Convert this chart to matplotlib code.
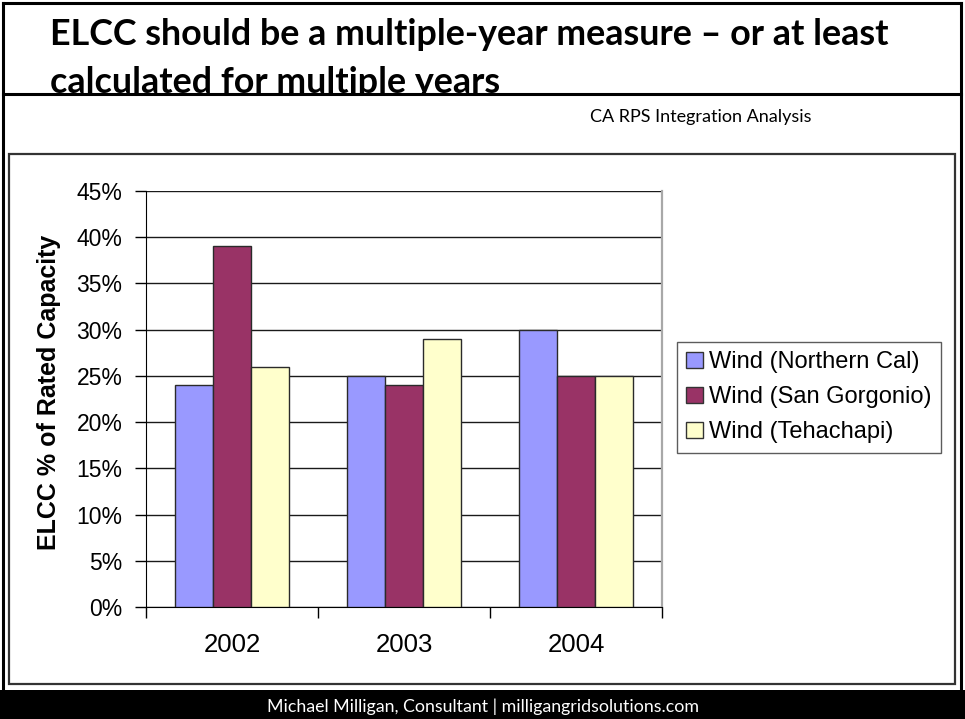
import matplotlib
matplotlib.use("Agg")
import matplotlib.pyplot as plt
import numpy as np
from matplotlib.patches import Rectangle
from matplotlib.lines import Line2D
from matplotlib.ticker import MultipleLocator, FuncFormatter, FixedLocator, NullFormatter

# ---- data -------------------------------------------------------------
years = ["2002", "2003", "2004"]
series_names = ["Wind (Northern Cal)", "Wind (San Gorgonio)", "Wind (Tehachapi)"]
northern_cal = [24, 25, 30]
san_gorgonio = [39, 24, 25]
tehachapi = [26, 29, 25]
series_values = [northern_cal, san_gorgonio, tehachapi]
series_colors = ["#9999FF", "#993366", "#FFFFCC"]

title_lines = ["ELCC should be a multiple-year measure \u2013 or at least",
               "calculated for multiple years"]
subtitle = "CA RPS Integration Analysis"
footer = "Michael Milligan, Consultant | milligangridsolutions.com"
y_label = "ELCC % of Rated Capacity"

W, H = 965, 719
fig = plt.figure(figsize=(W / 100, H / 100), dpi=100)
fig.patch.set_facecolor("white")


def fx(x):
    return x / W


def fy(y):
    return 1 - y / H


def fit_text(txt, width_px):
    """Scale a text's font size so that it spans width_px pixels."""
    r = fig.canvas.get_renderer()
    w = txt.get_window_extent(renderer=r).width
    txt.set_fontsize(txt.get_fontsize() * width_px / w)


# ---- slide title --------------------------------------------------------
rule_y = 94
t1 = fig.text(fx(50), fy(45), title_lines[0], fontfamily="Lato", fontweight="bold",
              fontsize=24, ha="left", va="baseline", color="black", zorder=1)
fit_text(t1, 842)
t2 = fig.text(fx(50), fy(93), title_lines[1], fontfamily="Lato", fontweight="bold",
              fontsize=t1.get_fontsize(), ha="left", va="baseline", color="black", zorder=1)

# content area below the title rule (covers the title's descenders)
fig.add_artist(Rectangle((fx(3), fy(690)), fx(961) - fx(3), fy(rule_y) - fy(690),
                         transform=fig.transFigure, facecolor="white",
                         edgecolor="none", zorder=1.5))
fig.add_artist(Line2D([fx(3), fx(961)], [fy(rule_y), fy(rule_y)], transform=fig.transFigure,
                      color="black", lw=2.2, zorder=2))

# slide frame
fig.add_artist(Line2D([fx(3), fx(3)], [fy(690), fy(2.5)], transform=fig.transFigure,
                      color="black", lw=2.2, zorder=2))
fig.add_artist(Line2D([fx(961), fx(961)], [fy(690), fy(2.5)], transform=fig.transFigure,
                      color="black", lw=2.2, zorder=2))
fig.add_artist(Line2D([fx(3), fx(961)], [fy(2.5), fy(2.5)], transform=fig.transFigure,
                      color="black", lw=2.2, zorder=2))

# subtitle
st = fig.text(fx(590), fy(117), subtitle, fontfamily="Lato", fontsize=12,
              ha="left", va="center", color="black", zorder=3)
fit_text(st, 220)

# chart frame
fig.add_artist(Rectangle((fx(9), fy(684)), fx(955) - fx(9), fy(154) - fy(684),
                         transform=fig.transFigure, facecolor="white",
                         edgecolor="#333333", lw=1.6, zorder=2))

# footer bar
fig.add_artist(Rectangle((0, 0), 1, fy(690), transform=fig.transFigure,
                         facecolor="black", edgecolor="none", zorder=2))
ft = fig.text(fx(483), fy(707), footer, fontfamily="Lato", fontsize=11,
              ha="center", va="center", color="white", zorder=3)
fit_text(ft, 430)

# ---- bar chart ----------------------------------------------------------
ax_left, ax_right, ax_top, ax_bottom = 146, 662, 191, 607
ax = fig.add_axes([fx(ax_left), fy(ax_bottom), fx(ax_right) - fx(ax_left),
                   fy(ax_top) - fy(ax_bottom)])
ax.set_zorder(5)
ax.patch.set_alpha(0)

x = np.arange(len(years))
bar_w = 0.222
for i, (name, vals, col) in enumerate(zip(series_names, series_values, series_colors)):
    ax.bar(x + (i - 1) * bar_w, np.array(vals) / 100.0, width=bar_w, color=col,
           edgecolor="#2a2a2a", linewidth=1.0, label=name, zorder=3)

ax.set_xlim(-0.5, len(years) - 0.5)
ax.set_ylim(0, 0.45)
ax.yaxis.set_major_locator(MultipleLocator(0.05))
ax.yaxis.set_major_formatter(FuncFormatter(lambda v, p: f"{v * 100:.0f}%"))
ax.grid(axis="y", color="#1a1a1a", linewidth=1.0, zorder=1)
ax.set_axisbelow(True)

# category labels centred, ticks on the category boundaries
ax.xaxis.set_major_locator(FixedLocator(x))
ax.set_xticklabels(years)
ax.xaxis.set_minor_locator(FixedLocator(np.arange(len(years) + 1) - 0.5))
ax.xaxis.set_minor_formatter(NullFormatter())
ax.tick_params(axis="x", which="major", length=0, pad=19, labelsize=18.5)
ax.tick_params(axis="x", which="minor", length=8, width=1.0, direction="out", color="black")
ax.tick_params(axis="y", length=8, width=1.0, direction="out", pad=9, labelsize=16.5,
               color="black")
for lab in ax.get_xticklabels() + ax.get_yticklabels():
    lab.set_fontfamily("Liberation Sans")

ax.spines["top"].set_visible(False)
ax.spines["left"].set_color("black")
ax.spines["bottom"].set_color("black")
ax.spines["right"].set_color("#a8a8a8")
ax.spines["right"].set_linewidth(1.6)

ax.set_ylabel(y_label, fontfamily="Liberation Sans", fontweight="bold", fontsize=18)
ax.yaxis.set_label_coords(-0.165, 0.515)

leg = ax.legend(loc="upper left", bbox_to_anchor=(fx(677), fy(342)),
                bbox_transform=fig.transFigure, frameon=True, fancybox=False,
                prop={"family": "Liberation Sans", "size": 17},
                handlelength=0.72, handleheight=0.68, handletextpad=0.25,
                labelspacing=0.55, borderpad=0.4, borderaxespad=0)
leg.get_frame().set_edgecolor("#333333")
leg.get_frame().set_linewidth(1.0)
for h in leg.legend_handles:
    h.set_edgecolor("#333333")

fig.savefig("out.png", dpi=100)
